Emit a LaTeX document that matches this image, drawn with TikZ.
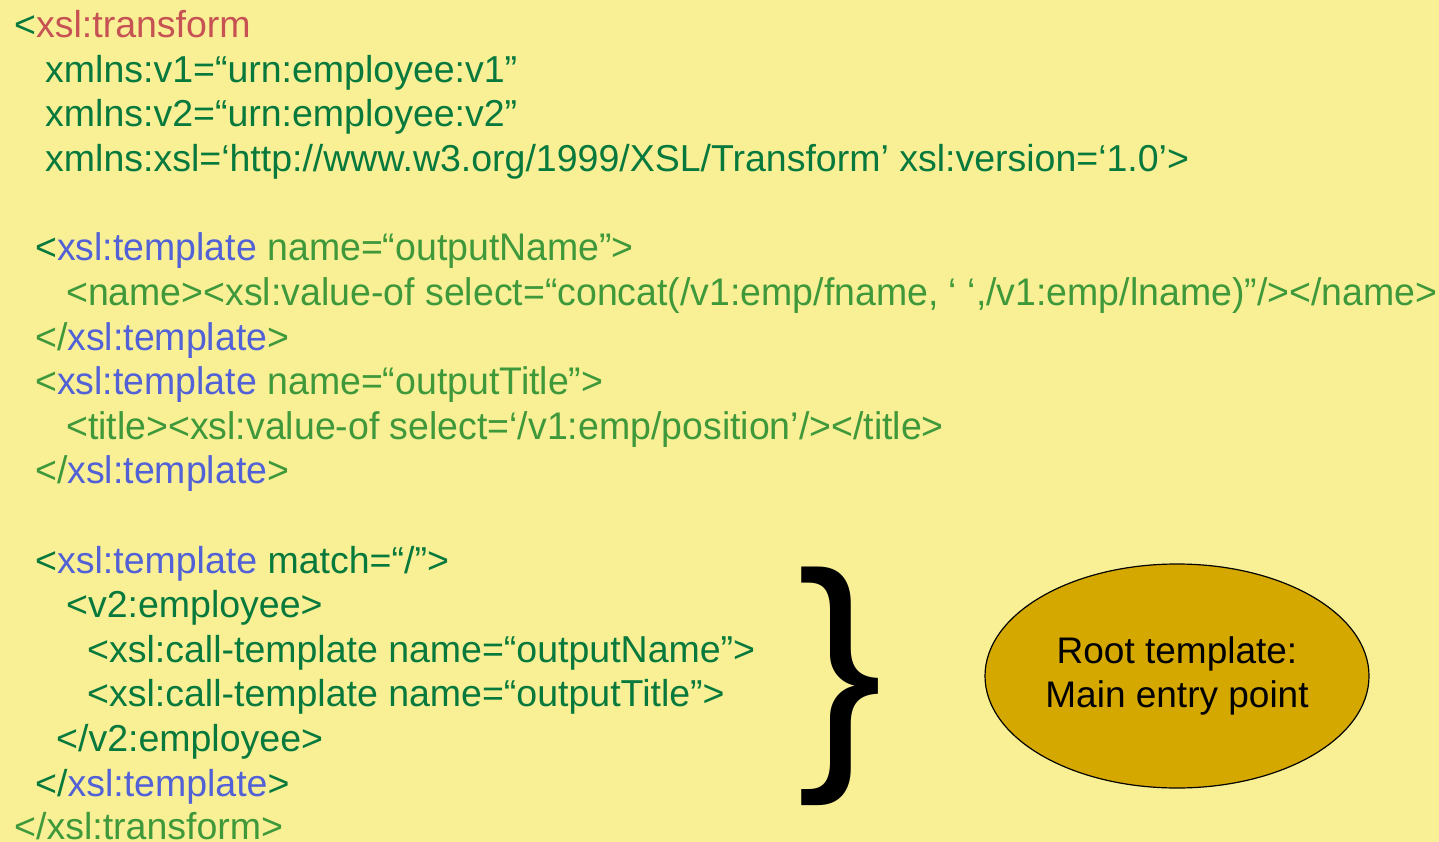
\documentclass[tikz,border=0pt]{standalone}
\usepackage{fontspec}
\setmainfont{Liberation Sans}
\newfontfamily\narrowfont[FakeStretch=0.973]{Liberation Sans}
\usetikzlibrary{shapes.geometric}
\definecolor{bg}{HTML}{F9F096}
\definecolor{dkgreen}{HTML}{08793C}
\definecolor{ltgreen}{HTML}{3F993B}
\definecolor{tagblue}{HTML}{5262D6}
\definecolor{tagred}{HTML}{C65253}
\definecolor{gold}{HTML}{D5A800}
\tikzset{
  code/.style={anchor=base west, inner sep=0pt, font=\fontsize{37.5}{44}\selectfont, text=dkgreen},
  ncode/.style={anchor=base west, inner sep=0pt, font=\fontsize{38.5}{44}\narrowfont, text=ltgreen},
  note/.style={ellipse, draw=black, line width=1.2pt, fill=gold, minimum width=384pt, minimum height=224pt,
    inner sep=0pt, align=center, font=\fontsize{37}{44}\selectfont, text=black}
}
\begin{document}
\begin{tikzpicture}[x=1pt,y=-1pt]
\fill[bg] (0,0) rectangle (1439,842);
\useasboundingbox (0,0) rectangle (1439,842);

% stylesheet header
\node[code] (l1) at (14,38) {<\textcolor{tagred}{xsl:transform}};
\node[code] (l2) at (45,82.5) {xmlns:v1=“urn:employee:v1”};
\node[code] (l3) at (45,127) {xmlns:v2=“urn:employee:v2”};
\node[code] (l4) at (45,171.5) {xmlns:xsl=‘http://www.w3.org/1999/XSL/Transform’ xsl:version=‘1.0’>};

% named templates
\node[ncode] (l5) at (35,260.5) {\textcolor{dkgreen}{<}\textcolor{tagblue}{xsl:template} name=“outputName”>};
\node[ncode] (l6) at (66,305.5) {<name><xsl:value-of select=“concat(/v1:emp/fname, ‘ ‘,/v1:emp/lname)”/></name>};
\node[ncode] (l7) at (35,350) {</\textcolor{tagblue}{xsl:template}>};
\node[ncode] (l8) at (35,394.5) {<\textcolor{tagblue}{xsl:template} name=“outputTitle”>};
\node[ncode] (l9) at (66,439) {<title><xsl:value-of select=‘/v1:emp/position’/></title>};
\node[ncode] (l10) at (35,483.5) {</\textcolor{tagblue}{xsl:template}>};

% root template
\node[code] (l11) at (35,573) {<\textcolor{tagblue}{xsl:template} match=“/”>};
\node[code] (l12) at (66,617.5) {<v2:employee>};
\node[code] (l13) at (87,662) {<xsl:call-template name=“outputName”>};
\node[code] (l14) at (87,706.5) {<xsl:call-template name=“outputTitle”>};
\node[code] (l15) at (56,751.5) {</v2:employee>};
\node[code] (l16) at (35,796) {</\textcolor{tagblue}{xsl:template}>};
\node[code, text=ltgreen] (l17) at (14,839) {</xsl:transform>};

% brace and callout
\node[inner sep=0pt, anchor=center, font=\fontsize{256}{256}\selectfont, text=black] (brace) at (840,686) {\}};
\node[note] (root) at (1177,676) {Root template:\\Main entry point};
\end{tikzpicture}
\end{document}
